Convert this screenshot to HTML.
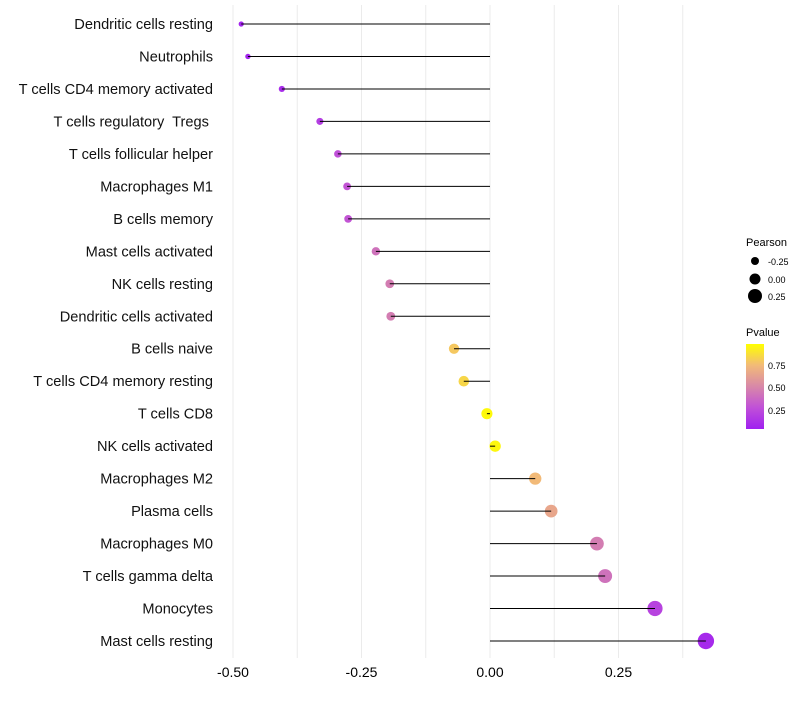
<!DOCTYPE html>
<html><head><meta charset="utf-8"><style>
body{margin:0;background:#fff;font-family:"Liberation Sans",sans-serif}
text{white-space:pre}
</style></head><body>
<svg id="chart" width="800" height="700" xmlns="http://www.w3.org/2000/svg">
<g id="grid"></g><g id="marks"></g><g id="labels"></g>
<g font-family="Liberation Sans" fill="#000">
<text x="746" y="246" font-size="11">Pearson</text>
<circle cx="755" cy="261" r="4"/>
<text x="768" y="265" font-size="9">-0.25</text>
<circle cx="755" cy="279" r="5.5"/>
<text x="768" y="283" font-size="9">0.00</text>
<circle cx="755" cy="296" r="7"/>
<text x="768" y="300" font-size="9">0.25</text>
<text x="746" y="336" font-size="11">Pvalue</text>
<defs><linearGradient id="pg" x1="0" y1="1" x2="0" y2="0">
<stop offset="0" stop-color="#a020f0"/><stop offset="0.25" stop-color="#c050d8"/><stop offset="0.5" stop-color="#d888a8"/><stop offset="0.75" stop-color="#f2ba78"/><stop offset="1" stop-color="#ffff00"/></linearGradient></defs>
<rect x="746" y="344" width="18" height="85" fill="url(#pg)"/>
<text x="768" y="369" font-size="9">0.75</text>
<text x="768" y="391" font-size="9">0.50</text>
<text x="768" y="414" font-size="9">0.25</text>
</g>
</svg>
<script>
const categories=["Dendritic cells resting","Neutrophils","T cells CD4 memory activated","T cells regulatory  Tregs ","T cells follicular helper","Macrophages M1","B cells memory","Mast cells activated","NK cells resting","Dendritic cells activated","B cells naive","T cells CD4 memory resting","T cells CD8","NK cells activated","Macrophages M2","Plasma cells","Macrophages M0","T cells gamma delta","Monocytes","Mast cells resting"];
const pearson=[-0.484,-0.471,-0.405,-0.331,-0.296,-0.278,-0.276,-0.222,-0.195,-0.193,-0.070,-0.051,-0.006,0.010,0.088,0.119,0.208,0.224,0.321,0.420];
const pvalue=[0.02,0.03,0.06,0.15,0.25,0.27,0.27,0.40,0.45,0.45,0.80,0.85,0.98,0.97,0.75,0.65,0.45,0.40,0.18,0.05];
const xTicks=[-0.5,-0.25,0,0.25];
const xTickLabels=["-0.50","-0.25","0.00","0.25"];
const NS="http://www.w3.org/2000/svg";
const x=v=>490+v*514;
const y=i=>24+i*(641-24)/19;
const r=v=>5.6+v*6.2;
function lerp(a,b,t){return a.map((c,k)=>Math.round(c+(b[k]-c)*t));}
const stops=[[0,[160,32,240]],[0.25,[192,80,216]],[0.5,[216,136,168]],[0.75,[242,186,120]],[1,[255,255,0]]];
function col(p){for(let k=1;k<stops.length;k++){if(p<=stops[k][0]){const t=(p-stops[k-1][0])/(stops[k][0]-stops[k-1][0]);const c=lerp(stops[k-1][1],stops[k][1],t);return `rgb(${c})`;}}return "rgb(255,255,0)";}
function mk(t,a,p){const e=document.createElementNS(NS,t);for(const k in a)e.setAttribute(k,a[k]);p.appendChild(e);return e;}
const grid=document.getElementById('grid'),marks=document.getElementById('marks'),labels=document.getElementById('labels');
for(let v=-0.5;v<=0.38;v+=0.125){const g=mk('line',{x1:x(v),x2:x(v),y1:5,y2:658,stroke:'#ebebeb','stroke-width':1},grid);

}
xTicks.forEach((v,i)=>{const t=mk('text',{x:x(v),y:677,'font-size':14,'text-anchor':'middle',fill:'#000'},labels);t.textContent=xTickLabels[i];

});
categories.forEach((c,i)=>{
const t=mk('text',{x:213,y:y(i)+5,'font-size':14.6,'text-anchor':'end',fill:'#111'},labels);t.textContent=c;


const d=mk('circle',{cx:x(pearson[i]),cy:y(i),r:Math.max(1.5,r(pearson[i])),fill:col(pvalue[i])},marks);


const l=mk('line',{x1:x(0),x2:x(pearson[i]),y1:y(i),y2:y(i),stroke:'#000','stroke-width':1},marks);


});
</script>
</body></html>
